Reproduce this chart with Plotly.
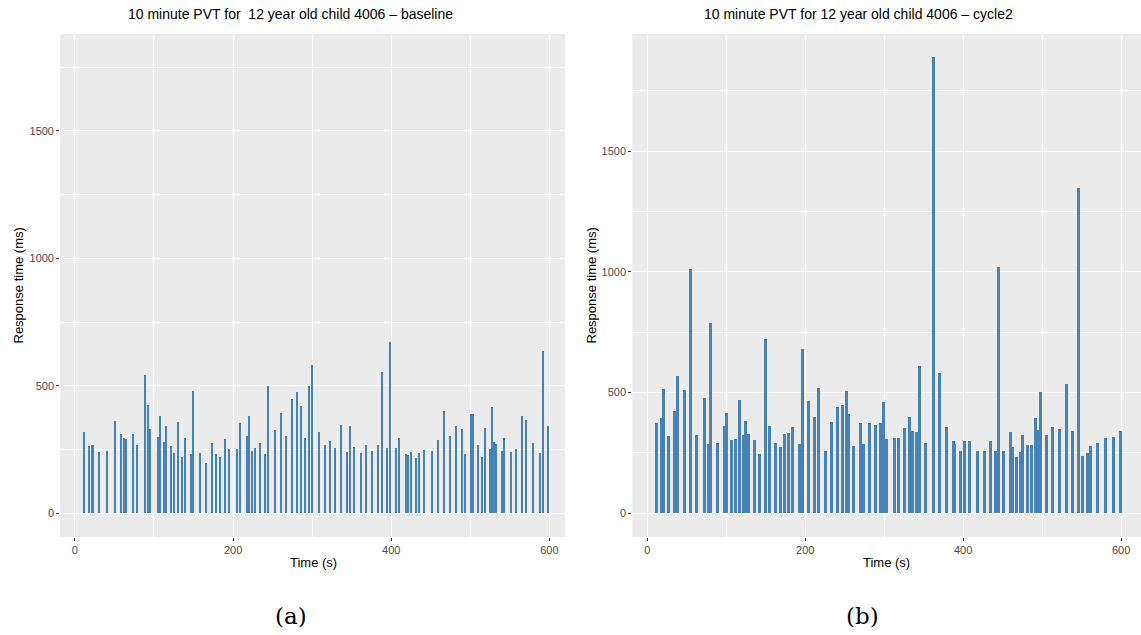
import plotly.graph_objects as go

W, H = 1141, 635

# ---- data: (a) baseline ----
base_t = [11.8, 18.1, 22.9, 30.7, 40.9, 51.0, 58.6, 62.4, 64.9, 73.8, 78.8, 89.0, 92.8, 95.3,
          105.4, 108.0, 113.0, 115.5, 121.9, 125.6, 130.7, 135.8, 139.6, 147.2, 149.7, 158.6,
          166.0, 173.7, 178.8, 183.9, 190.2, 195.3, 205.6, 209.4, 218.0, 220.6, 224.4, 228.2,
          234.5, 240.8, 244.6, 253.5, 261.1, 267.5, 275.0, 281.3, 286.4, 291.5, 296.6, 300.4,
          309.2, 316.8, 323.1, 329.4, 337.0, 344.6, 348.4, 353.4, 362.3, 368.6, 376.2, 383.8,
          388.9, 395.2, 399.0, 406.4, 410.3, 419.2, 421.7, 425.5, 431.8, 435.6, 442.0, 452.1,
          459.7, 467.3, 474.9, 482.5, 490.1, 493.9, 501.4, 504.0, 510.2, 515.3, 519.1, 525.5,
          528.0, 530.6, 533.1, 540.7, 543.2, 552.1, 558.4, 566.0, 571.1, 580.0, 588.9, 592.7,
          598.9]
base_rt = [319, 264, 268, 241, 245, 363, 311, 295, 291, 311, 268, 543, 425, 331,
           300, 382, 280, 343, 264, 237, 359, 221, 295, 233, 480, 237,
           198, 276, 233, 221, 291, 252, 252, 354, 304, 382, 245, 256,
           276, 233, 500, 327, 394, 304, 449, 476, 422, 295, 500, 583,
           319, 268, 284, 256, 347, 241, 343, 260, 237, 268, 245, 268,
           555, 256, 673, 256, 295, 233, 229, 241, 217, 237, 248, 245,
           288, 402, 304, 343, 331, 233, 390, 390, 268, 221, 335, 252,
           417, 280, 272, 245, 295, 241, 252, 382, 366, 276, 237, 638,
           343]

# ---- data: (b) cycle2 ----
cyc_t = [12.3, 18.6, 21.1, 27.5, 35.1, 38.9, 47.7, 55.3, 62.9, 73.1, 78.1, 80.7, 89.5, 98.4,
         100.9, 107.3, 112.3, 117.4, 122.4, 125.0, 128.8, 136.4, 142.7, 150.3, 155.4, 163.0,
         169.3, 174.4, 179.5, 184.5, 193.4, 197.2, 204.8, 212.4, 217.5, 226.4, 234.0, 241.5,
         247.9, 253.0, 255.5, 261.8, 270.6, 274.4, 282.0, 289.6, 296.0, 299.8, 303.6, 313.7,
         318.8, 326.4, 332.7, 336.5, 341.6, 345.4, 353.0, 363.1, 370.7, 379.6, 388.4, 390.3,
         397.3, 402.4, 408.7, 418.8, 427.7, 435.3, 441.6, 445.4, 451.8, 460.6, 463.2, 468.2,
         473.3, 475.8, 482.1, 487.2, 492.3, 496.1, 498.6, 506.2, 513.8, 522.7, 531.6, 539.2,
         546.8, 551.8, 558.2, 562.0, 570.9, 581.0, 591.2, 600.0]
cyc_rt = [374, 395, 515, 320, 424, 569, 511, 1012, 324, 478, 287, 788, 291, 362,
          416, 303, 308, 469, 324, 382, 328, 303, 245, 722, 362, 291,
          274, 328, 332, 357, 286, 681, 465, 399, 519, 258, 378, 440,
          448, 506, 411, 279, 374, 286, 374, 365, 374, 461, 307, 311,
          311, 353, 399, 341, 336, 610, 291, 1890, 581, 357, 299, 287,
          258, 299, 299, 258, 258, 299, 258, 1020, 258, 336, 274, 233,
          254, 324, 282, 282, 395, 345, 502, 324, 357, 349, 536, 341,
          1348, 237, 249, 278, 291, 311, 316, 341]

x_ticks = [0, 200, 400, 600]
y_ticks = [0, 500, 1000, 1500]
x_minor = [100, 300, 500]
y_minor = [250, 750, 1250, 1750]
titles = ["10 minute PVT for \u00a012 year old child 4006 \u2013 baseline",
          "10 minute PVT for 12 year old child 4006 \u2013 cycle2"]
captions = ["(a)", "(b)"]
x_title = "Time (s)"
y_title = "Response time (ms)"

BAR = "#4682B4"
PANEL = "#EBEBEB"
FONT = "Liberation Sans, Arial, sans-serif"

fig = go.Figure()
fig.add_trace(go.Bar(x=base_t, y=base_rt, width=2.5, marker=dict(color=BAR, line=dict(width=0)),
                     xaxis="x", yaxis="y", showlegend=False))
fig.add_trace(go.Bar(x=cyc_t, y=cyc_rt, width=2.5, marker=dict(color=BAR, line=dict(width=0)),
                     xaxis="x2", yaxis="y2", showlegend=False))

def px(v):
    return v / W

def py(v):
    return 1 - v / H

top_px, bot_px = 34, 537
ydom = [py(bot_px), py(top_px)]

def xax(domain, rng, anchor):
    return dict(domain=domain, range=rng, anchor=anchor, tickmode="array", tickvals=x_ticks,
                ticks="outside", ticklen=3, tickwidth=1, tickcolor="#333333",
                tickfont=dict(family=FONT, size=11, color="#4D4D4D"),
                showgrid=True, gridcolor="white", gridwidth=1.1, zeroline=False,
                showline=False, fixedrange=True,
                minor=dict(tickvals=x_minor, showgrid=True, gridcolor="white", gridwidth=0.55, ticks=""))

def yax(rng, anchor):
    return dict(domain=ydom, range=rng, anchor=anchor, tickmode="array", tickvals=y_ticks,
                ticks="outside", ticklen=3, tickwidth=1, tickcolor="#333333",
                tickfont=dict(family=FONT, size=11, color="#4D4D4D"),
                showgrid=True, gridcolor="white", gridwidth=1.1, zeroline=False,
                showline=False, fixedrange=True,
                minor=dict(tickvals=y_minor, showgrid=True, gridcolor="white", gridwidth=0.55, ticks=""))

left_l, left_r = 60.2, 565
right_l, right_r = 632.3, 1141

fig.update_layout(
    width=W, height=H, margin=dict(l=0, r=0, t=0, b=0),
    paper_bgcolor="white", plot_bgcolor=PANEL, barmode="overlay", bargap=0,
    xaxis=xax([px(left_l), px(left_r)], [-18.6, 619.7], "y"),
    yaxis=yax([-93, 1880], "x"),
    xaxis2=xax([px(right_l), px(right_r)], [-19, 625.2], "y2"),
    yaxis2=yax([-98.2, 1985.5], "x2"),
)

ann = []
for tx, t in zip([290, 858], titles):
    ann.append(dict(x=px(tx), y=py(14), xref="paper", yref="paper", text=t, showarrow=False,
                    xanchor="center", yanchor="middle", font=dict(family=FONT, size=14, color="black")))
for tx in [313, 886.6]:
    ann.append(dict(x=px(tx), y=py(562), xref="paper", yref="paper", text=x_title, showarrow=False,
                    xanchor="center", yanchor="middle", font=dict(family=FONT, size=13, color="black")))
for tx in [18, 591]:
    ann.append(dict(x=px(tx), y=py(285.5), xref="paper", yref="paper", text=y_title, showarrow=False,
                    textangle=-90, xanchor="center", yanchor="middle",
                    font=dict(family=FONT, size=13, color="black")))
for tx, c in zip([291, 863], captions):
    ann.append(dict(x=px(tx), y=py(616), xref="paper", yref="paper", text=c, showarrow=False,
                    xanchor="center", yanchor="middle",
                    font=dict(family="DejaVu Serif, Liberation Serif, serif", size=23, color="black")))
fig.update_layout(annotations=ann)

fig.write_html("out.html")
